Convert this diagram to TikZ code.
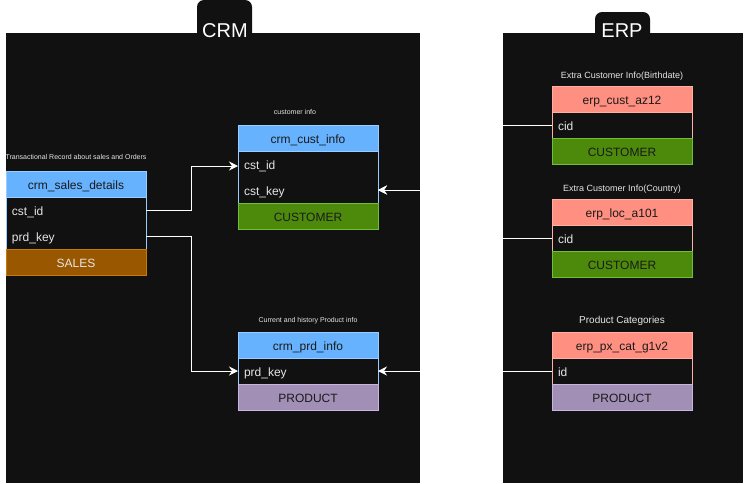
\documentclass[tikz,border=0pt]{standalone}
\usepackage{fontspec}
\setmainfont{Liberation Sans}
\usepackage{tikz}
\usetikzlibrary{arrows.meta, positioning}
\definecolor{panelgray}{RGB}{17,17,17}
\definecolor{headblue}{RGB}{102,178,255}
\definecolor{blueline}{RGB}{153,204,255}
\definecolor{headsalmon}{RGB}{255,143,128}
\definecolor{salmonline}{RGB}{255,176,165}
\definecolor{custfill}{RGB}{77,138,12}
\definecolor{custline}{RGB}{111,191,58}
\definecolor{salesfill}{RGB}{153,87,0}
\definecolor{salesline}{RGB}{199,123,0}
\definecolor{prodfill}{RGB}{161,143,181}
\definecolor{prodline}{RGB}{200,180,224}
\definecolor{darktext}{RGB}{26,26,26}
\definecolor{lighttext}{RGB}{230,230,230}
\tikzset{
    headnode/.style = {draw, rectangle, line width=1pt, outer sep=0pt, inner sep=0pt, text height=10pt, text depth=0pt,
      minimum width=140pt, minimum height=26pt, font=\fontsize{12}{14}\selectfont, text=darktext},
    rownode/.style = {rectangle, outer sep=0pt, inner xsep=6pt, inner ysep=0pt, text width=128pt, text height=10pt, text depth=0pt,
      minimum height=26pt, align=left, font=\fontsize{12}{14}\selectfont, text=lighttext},
    footnode/.style = {draw, rectangle, line width=1pt, outer sep=0pt, inner sep=0pt, text height=10pt, text depth=0pt,
      minimum width=140pt, minimum height=26pt, font=\fontsize{12}{14}\selectfont, text=darktext},
    labelnode/.style = {draw=none, fill=none, rectangle, inner sep=0pt, outer sep=0pt, text=lighttext},
    titlenode/.style = {draw=none, inner sep=0pt, font=\fontsize{20}{24}\selectfont, text=white},
    connect/.style = {white, line width=1pt, -{Stealth[length=9pt, width=9pt, inset=3pt]}}
}

\begin{document}
\begin{tikzpicture}[x=1pt, y=-1pt]
\useasboundingbox (0,0) rectangle (744,483);

% panels
\fill [panelgray] (6,33) rectangle (420,483);
\fill [panelgray, rounded corners=7pt] (197,45) rectangle (252,0);
\fill [panelgray] (503,33) rectangle (743,483);
\fill [panelgray, rounded corners=7pt] (595,45) rectangle (650,12);
\node [titlenode, name=crm_title] at (225,31) {CRM};
\node [titlenode, name=erp_title] at (622,31) {ERP};

% crm_sales_details
\node [headnode, fill=headblue, draw=blueline, name=sales_head] at (76,184) {crm\_sales\_details};
\node [rownode, name=sales_cid, below=0pt of sales_head] {cst\_id};
\node [rownode, name=sales_pkey, below=0pt of sales_cid] {prd\_key};
\draw [blueline, line width=1pt] (sales_cid.north west) rectangle (sales_pkey.south east);
\node [footnode, fill=salesfill, draw=salesline, text=lighttext, name=sales_foot, below=0pt of sales_pkey] {SALES};
\node [labelnode, font=\fontsize{7}{8}\selectfont, name=sales_label, above=11pt of sales_head] {Transactional Record about sales and Orders};

% crm_cust_info
\node [headnode, fill=headblue, draw=blueline, name=cust_head] at (308,138) {crm\_cust\_info};
\node [rownode, name=cust_cid, below=0pt of cust_head] {cst\_id};
\node [rownode, name=cust_ckey, below=0pt of cust_cid] {cst\_key};
\draw [blueline, line width=1pt] (cust_cid.north west) rectangle (cust_ckey.south east);
\node [footnode, fill=custfill, draw=custline, name=cust_foot, below=0pt of cust_ckey] {CUSTOMER};
\node [labelnode, font=\fontsize{7}{8}\selectfont, name=cust_label, above=10pt of cust_head, xshift=-13pt] {customer info};

% crm_prd_info
\node [headnode, fill=headblue, draw=blueline, name=prd_head] at (308,345) {crm\_prd\_info};
\node [rownode, name=prd_pkey, below=0pt of prd_head] {prd\_key};
\draw [blueline, line width=1pt] (prd_pkey.north west) rectangle (prd_pkey.south east);
\node [footnode, fill=prodfill, draw=prodline, name=prd_foot, below=0pt of prd_pkey] {PRODUCT};
\node [labelnode, font=\fontsize{7}{8}\selectfont, name=prd_label, above=8pt of prd_head] {Current and history Product info};

% erp_cust_az12
\node [headnode, fill=headsalmon, draw=salmonline, name=az_head] at (622,99) {erp\_cust\_az12};
\node [rownode, name=az_cid, below=0pt of az_head] {cid};
\draw [salmonline, line width=1pt] (az_cid.north west) rectangle (az_cid.south east);
\node [footnode, fill=custfill, draw=custline, name=az_foot, below=0pt of az_cid] {CUSTOMER};
\node [labelnode, font=\fontsize{9}{10}\selectfont, name=az_label, above=6pt of az_head] {Extra Customer Info(Birthdate)};

% erp_loc_a101
\node [headnode, fill=headsalmon, draw=salmonline, name=loc_head] at (622,212) {erp\_loc\_a101};
\node [rownode, name=loc_cid, below=0pt of loc_head] {cid};
\draw [salmonline, line width=1pt] (loc_cid.north west) rectangle (loc_cid.south east);
\node [footnode, fill=custfill, draw=custline, name=loc_foot, below=0pt of loc_cid] {CUSTOMER};
\node [labelnode, font=\fontsize{9}{10}\selectfont, name=loc_label, above=6pt of loc_head] {Extra Customer Info(Country)};

% erp_px_cat_g1v2
\node [headnode, fill=headsalmon, draw=salmonline, name=cat_head] at (622,345) {erp\_px\_cat\_g1v2};
\node [rownode, name=cat_id, below=0pt of cat_head] {id};
\draw [salmonline, line width=1pt] (cat_id.north west) rectangle (cat_id.south east);
\node [footnode, fill=prodfill, draw=prodline, name=cat_foot, below=0pt of cat_id] {PRODUCT};
\node [labelnode, font=\fontsize{10}{12}\selectfont, name=cat_label, above=6pt of cat_head] {Product Categories};

% connectors
\draw [connect] (sales_cid.east) -- ++(45,0) |- ([yshift=-2pt]cust_cid.west);
\draw [connect] (sales_pkey.east) -- ++(45,0) |- (prd_pkey.west);
\draw [connect] (az_cid.west) -- ++(-90,0) |- (cust_ckey.east);
\draw [connect] (loc_cid.west) -- ++(-90,0) |- (cust_ckey.east);
\draw [connect] (cat_id.west) -- (prd_pkey.east);
\end{tikzpicture}
\end{document}
